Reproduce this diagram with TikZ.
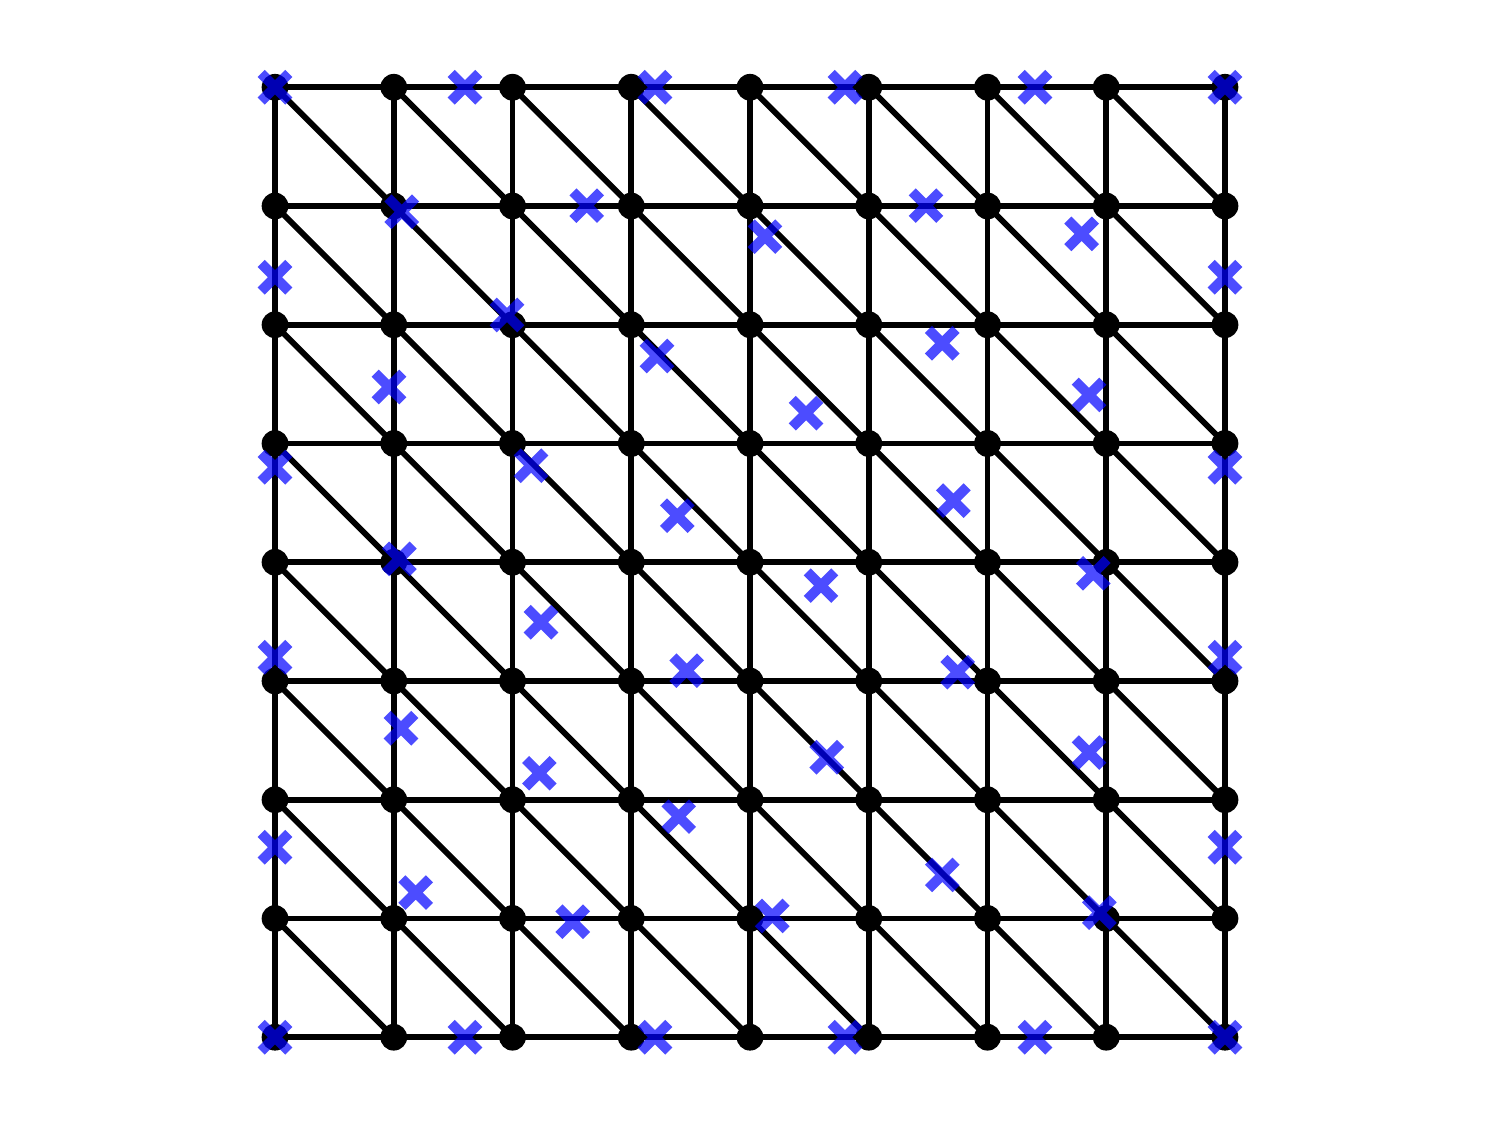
\documentclass[tikz,border=0pt]{standalone}
\usepackage{xcolor}
\usepackage{tikz}
\usetikzlibrary{shapes.misc}
\definecolor{ink}{RGB}{0,0,0}
\definecolor{probe}{RGB}{0,0,255}
\tikzset{
  meshedge/.style={line width=1.4pt,ink},
  vertex/.style={circle,fill=ink,inner sep=0pt,minimum size=0.225cm},
  xmark/.style={cross out,draw=probe,draw opacity=0.7,line width=2.4pt,
    inner sep=0pt,minimum size=0.148cm}
}

\begin{document}
\begin{tikzpicture}
  \useasboundingbox (-2.316,-0.739) rectangle (10.316,8.735);
  % mesh vertices
  \foreach \i in {0,...,8}
    \foreach \j in {0,...,8}
      \node[vertex] (v-\i-\j) at (\i,\j) {};
  % horizontal and vertical edges
  \foreach \i [count=\k] in {0,...,7}
    \foreach \j in {0,...,8} {
      \draw[meshedge] (v-\i-\j.center) -- (v-\k-\j.center);
      \draw[meshedge] (v-\j-\i.center) -- (v-\j-\k.center);
    }
  % diagonals, top left to bottom right
  \foreach \i [count=\k] in {0,...,7}
    \foreach \j [count=\l] in {0,...,7}
      \draw[meshedge] (v-\i-\l.center) -- (v-\k-\j.center);
  % sample points
  \foreach \p [count=\n] in {
      (0,0),(1.6,0),(3.2,0),(4.8,0),(6.4,0),(8,0),
      (0,8),(1.6,8),(3.2,8),(4.8,8),(6.4,8),(8,8),
      (0,1.6),(0,3.2),(0,4.8),(0,6.4),
      (8,1.6),(8,3.2),(8,4.8),(8,6.4),
      (1.067,6.952),(2.625,7.003),(4.126,6.742),(5.482,7.003),(6.793,6.765),
      (1.954,6.082),(3.217,5.737),(5.619,5.844),
      (0.960,5.476),(4.472,5.255),(6.855,5.409),
      (2.156,4.813),(3.388,4.392),(5.712,4.519),
      (1.047,4.028),(4.598,3.803),(6.891,3.907),
      (2.240,3.495),(3.467,3.087),(5.749,3.074),
      (1.061,2.602),(4.646,2.358),(6.855,2.397),
      (2.226,2.223),(3.400,1.858),
      (1.185,1.218),(2.507,0.973),(4.188,1.021),(5.619,1.367),(6.942,1.049)}
    \node[xmark] (x\n) at \p {};
\end{tikzpicture}
\end{document}
